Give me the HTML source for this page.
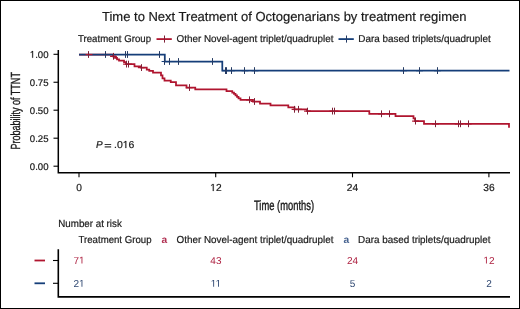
<!DOCTYPE html>
<html><head><meta charset="utf-8"><style>
html,body{margin:0;padding:0;background:#fff;}
svg{display:block;will-change:transform;}
text{text-rendering:geometricPrecision;font-family:"Liberation Sans",sans-serif;fill:#1a1a1a;stroke:#1a1a1a;stroke-width:0.2px;}
.r{fill:#AE2141;stroke:none;}
.b{fill:#2D4670;stroke:none;}
.ra{fill:#B02D50;stroke:none;font-weight:bold;}
.ba{fill:#45618F;stroke:none;font-weight:bold;}
.h1{fill-opacity:0;stroke-opacity:0;}
</style></head><body>
<svg width="520" height="309" viewBox="0 0 520 309">
<rect x="0.5" y="0.5" width="519" height="308" fill="#fff" stroke="#000" stroke-width="1"/>
<path d="M58.3,50 V172.7 H510" stroke="#000" stroke-width="1.5" fill="none"/>
<path d="M53.5,54.3 H58.3" stroke="#000" stroke-width="1.1"/>
<path d="M53.5,82.25 H58.3" stroke="#000" stroke-width="1.1"/>
<path d="M53.5,110.2 H58.3" stroke="#000" stroke-width="1.1"/>
<path d="M53.5,138.2 H58.3" stroke="#000" stroke-width="1.1"/>
<path d="M53.5,166.2 H58.3" stroke="#000" stroke-width="1.1"/>
<path d="M79,172.7 V177.3" stroke="#000" stroke-width="1.1"/>
<path d="M215.7,172.7 V177.3" stroke="#000" stroke-width="1.1"/>
<path d="M352.5,172.7 V177.3" stroke="#000" stroke-width="1.1"/>
<path d="M488.9,172.7 V177.3" stroke="#000" stroke-width="1.1"/>
<path d="M156.5,39.1 H171.8" stroke="#B0152F" stroke-width="1.8"/>
<path d="M164.5,35.5 V42.6" stroke="#7E2036" stroke-width="1"/>
<path d="M338.5,39.1 H353.8" stroke="#153E79" stroke-width="1.8"/>
<path d="M346.5,35.5 V42.6" stroke="#243A63" stroke-width="1"/>
<path d="M79,54.5 H113 V56.3 H115 V57.8 H117 V59.3 H119 V60.6 H124 V62.0 H126 V64.1 H134.5 V66.3 H141 V67.6 H146.75 V69.55 H149.25 V70.8 H153 V72.5 H161 V75.3 H162.5 V78.3 H164.5 V80.55 H170.75 V82.05 H176 V85.4 H186.5 V87.55 H195.25 V89.3 H226.5 V91.05 H232.25 V92.55 H234 V93.9 H235.5 V95.3 H237 V96.8 H238.5 V98.3 H240.5 V99.8 H253 V101.5 H260 V103.5 H270.5 V105.3 H288.3 V107.3 H294.5 V109.3 H307 V111.1 H369.3 V113.8 H395.5 V116.1 H413.5 V118.3 H415 V121.1 H424 V123.8 H509 V127.8" stroke="#B0152F" stroke-width="1.75" fill="none"/>
<path d="M79,54.5 H164.8 V61.5 H222.3 V70.6 H509.5" stroke="#153E79" stroke-width="1.75" fill="none"/>
<path d="M85.6,54.5 H92.4 M110.1,56.3 H116.9 M123.1,64.1 H129.9 M125.1,64.1 H131.9 M137.85,67.6 H144.65 M185.85,87.55 H192.65 M246.1,99.8 H252.9 M250.6,101.5 H257.4 M291.6,109.3 H298.4 M295.1,109.3 H301.9 M304.1,111.1 H310.9 M329.40000000000003,111.1 H336.2 M331.6,111.1 H338.4 M378.1,113.8 H384.9 M386.40000000000003,113.8 H393.2 M412.1,121.1 H418.9 M432.1,123.8 H438.9 M454.8,123.8 H461.59999999999997 M456.6,123.8 H463.4 M464.8,123.8 H471.59999999999997" stroke="#B0152F" stroke-width="1.2" fill="none"/>
<path d="M102.39999999999999,54.5 H109.2 M122.35,54.5 H129.15 M124.1,54.5 H130.9 M156.1,54.5 H162.9 M161.6,61.5 H168.4 M166.1,61.5 H172.9 M174.9,61.5 H181.70000000000002 M208.6,61.5 H215.4 M222.1,70.6 H228.9 M223.1,70.6 H229.9 M228.1,70.6 H234.9 M241.6,70.6 H248.4 M251.6,70.6 H258.4 M400.20000000000005,70.6 H407.0 M416.1,70.6 H422.9 M434.1,70.6 H440.9" stroke="#153E79" stroke-width="1.2" fill="none"/>
<path d="M88.5,51.1 V57.9 M113.5,52.9 V59.699999999999996 M126.5,60.699999999999996 V67.5 M128.5,60.699999999999996 V67.5 M141.5,64.19999999999999 V71.0 M189.5,84.14999999999999 V90.95 M249.5,96.39999999999999 V103.2 M254.5,98.1 V104.9 M294.5,105.89999999999999 V112.7 M298.5,105.89999999999999 V112.7 M307.5,107.69999999999999 V114.5 M332.5,107.69999999999999 V114.5 M334.5,107.69999999999999 V114.5 M381.5,110.39999999999999 V117.2 M389.5,110.39999999999999 V117.2 M415.5,117.69999999999999 V124.5 M435.5,120.39999999999999 V127.2 M458.5,120.39999999999999 V127.2 M460.5,120.39999999999999 V127.2 M468.5,120.39999999999999 V127.2" stroke="#7E2036" stroke-width="1" fill="none"/>
<path d="M105.5,51.1 V57.9 M125.5,51.1 V57.9 M127.5,51.1 V57.9 M159.5,51.1 V57.9 M164.5,58.1 V64.9 M169.5,58.1 V64.9 M178.5,58.1 V64.9 M212.5,58.1 V64.9 M225.5,67.19999999999999 V74.0 M226.5,67.19999999999999 V74.0 M231.5,67.19999999999999 V74.0 M244.5,67.19999999999999 V74.0 M254.5,67.19999999999999 V74.0 M403.5,67.19999999999999 V74.0 M419.5,67.19999999999999 V74.0 M437.5,67.19999999999999 V74.0" stroke="#243A63" stroke-width="1" fill="none"/>
<path d="M58.3,249.2 V296.9 H510" stroke="#000" stroke-width="1.6" fill="none"/>
<path d="M53,260.5 H58.3" stroke="#000" stroke-width="1.1"/>
<path d="M34.5,260.5 H45" stroke="#B0152F" stroke-width="1.8"/>
<path d="M53,283.3 H58.3" stroke="#000" stroke-width="1.1"/>
<path d="M34.5,283.3 H45" stroke="#153E79" stroke-width="1.8"/>
<text x="102" y="20.6" font-size="13.1" textLength="364.5" lengthAdjust="spacingAndGlyphs">Time to Next Treatment of Octogenarians by treatment regimen</text>
<text x="78" y="42" font-size="10.0" textLength="73" lengthAdjust="spacingAndGlyphs">Treatment Group</text>
<text x="176.5" y="42" font-size="10.0" textLength="157" lengthAdjust="spacingAndGlyphs">Other Novel-agent triplet/quadruplet</text>
<text x="358.3" y="42" font-size="10.0" textLength="132.5" lengthAdjust="spacingAndGlyphs">Dara based triplets/quadruplet</text>
<text x="48.5" y="57.7" font-size="9.6" text-anchor="end"><tspan class="h1">1</tspan>.00</text>
<text x="48.5" y="85.65" font-size="9.6" text-anchor="end">0.75</text>
<text x="48.5" y="113.6" font-size="9.6" text-anchor="end">0.50</text>
<text x="48.5" y="141.6" font-size="9.6" text-anchor="end">0.25</text>
<text x="48.5" y="169.6" font-size="9.6" text-anchor="end">0.00</text>
<text x="79" y="191" font-size="10.2" text-anchor="middle">0</text>
<text x="215.9" y="191" font-size="10.2" text-anchor="middle"><tspan class="h1">1</tspan>2</text>
<text x="352.5" y="191" font-size="10.2" text-anchor="middle">24</text>
<text x="488.9" y="191" font-size="10.2" text-anchor="middle">36</text>
<text x="254" y="209.6" font-size="13.5" textLength="60" lengthAdjust="spacingAndGlyphs" style="stroke:#1a1a1a;stroke-width:0.4px">Time (months)</text>
<text x="0" y="0" font-size="13.2" textLength="77.5" lengthAdjust="spacingAndGlyphs" style="stroke:#1a1a1a;stroke-width:0.35px" transform="translate(20.2,149.6) rotate(-90)">Probability of TTNT</text>
<text x="96.0" y="148" font-size="10" style="font-style:italic">P</text>
<text x="104.2" y="148.8" font-size="10" textLength="7.4" lengthAdjust="spacingAndGlyphs">=</text>
<text x="114.0" y="148" font-size="10" textLength="20.4" lengthAdjust="spacingAndGlyphs">.0<tspan class="h1">1</tspan>6</text>
<text x="58.3" y="226.6" font-size="10.3" textLength="63.5" lengthAdjust="spacingAndGlyphs">Number at risk</text>
<text x="78.5" y="242.8" font-size="10.2" textLength="73" lengthAdjust="spacingAndGlyphs">Treatment Group</text>
<text x="161.4" y="242.8" font-size="10.2" class="ra">a</text>
<text x="176.5" y="242.8" font-size="10.2" textLength="157" lengthAdjust="spacingAndGlyphs">Other Novel-agent triplet/quadruplet</text>
<text x="343.5" y="242.8" font-size="10.2" class="ba">a</text>
<text x="358" y="242.8" font-size="10.2" textLength="132.5" lengthAdjust="spacingAndGlyphs">Dara based triplets/quadruplet</text>
<text x="79" y="263.6" font-size="10.0" text-anchor="middle" class="r">7<tspan class="h1">1</tspan></text>
<text x="215.9" y="263.6" font-size="10.0" text-anchor="middle" class="r">43</text>
<text x="352.5" y="263.6" font-size="10.0" text-anchor="middle" class="r">24</text>
<text x="489" y="263.6" font-size="10.0" text-anchor="middle" class="r"><tspan class="h1">1</tspan>2</text>
<text x="79" y="286.8" font-size="10.0" text-anchor="middle" class="b">2<tspan class="h1">1</tspan></text>
<text x="215.9" y="286.8" font-size="10.0" text-anchor="middle" class="b"><tspan class="h1">1</tspan><tspan class="h1">1</tspan></text>
<text x="352.5" y="286.8" font-size="10.0" text-anchor="middle" class="b">5</text>
<text x="489" y="286.8" font-size="10.0" text-anchor="middle" class="b">2</text>
<path d="M515,0 L515,1237 L197,1010 L197,1180 L530,1409 L696,1409 L696,0 Z" transform="translate(29.812,57.700) scale(0.004687,-0.004687)" style="fill:#1a1a1a;stroke:#1a1a1a;stroke-width:42.67px"/>
<path d="M515,0 L515,1237 L197,1010 L197,1180 L530,1409 L696,1409 L696,0 Z" transform="translate(210.228,191.000) scale(0.004980,-0.004980)" style="fill:#1a1a1a;stroke:#1a1a1a;stroke-width:40.16px"/>
<path d="M515,0 L515,1237 L197,1010 L197,1180 L530,1409 L696,1409 L696,0 Z" transform="translate(122.743,148.000) scale(0.005116,-0.004883)" style="fill:#1a1a1a;stroke:#1a1a1a;stroke-width:40.96px"/>
<path d="M515,0 L515,1237 L197,1010 L197,1180 L530,1409 L696,1409 L696,0 Z" transform="translate(79.000,263.600) scale(0.004883,-0.004883)" style="fill:#AE2141;stroke:#AE2141;stroke-width:0.00px"/>
<path d="M515,0 L515,1237 L197,1010 L197,1180 L530,1409 L696,1409 L696,0 Z" transform="translate(483.438,263.600) scale(0.004883,-0.004883)" style="fill:#AE2141;stroke:#AE2141;stroke-width:0.00px"/>
<path d="M515,0 L515,1237 L197,1010 L197,1180 L530,1409 L696,1409 L696,0 Z" transform="translate(79.000,286.800) scale(0.004883,-0.004883)" style="fill:#2D4670;stroke:#2D4670;stroke-width:0.00px"/>
<path d="M515,0 L515,1237 L197,1010 L197,1180 L530,1409 L696,1409 L696,0 Z" transform="translate(210.705,286.800) scale(0.004883,-0.004883)" style="fill:#2D4670;stroke:#2D4670;stroke-width:0.00px"/>
<path d="M515,0 L515,1237 L197,1010 L197,1180 L530,1409 L696,1409 L696,0 Z" transform="translate(215.533,286.800) scale(0.004883,-0.004883)" style="fill:#2D4670;stroke:#2D4670;stroke-width:0.00px"/>
</svg>
</body></html>
